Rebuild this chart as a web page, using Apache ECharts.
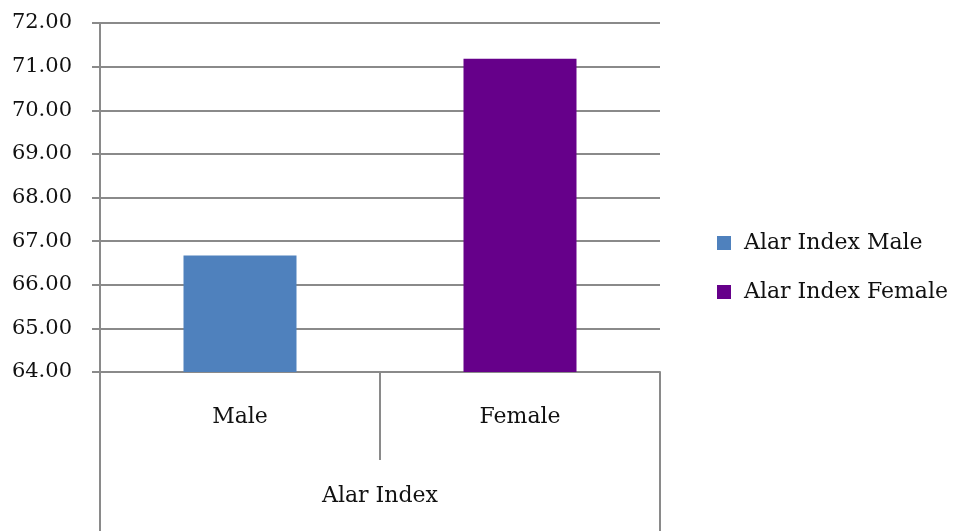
<!DOCTYPE html>
<html lang="en">

<head>
  <script src="https://cdn.jsdelivr.net/npm/echarts@6.0.0/dist/echarts.min.js"></script>
  <meta charset="UTF-8">
</head>

<body style="margin:0;background:#fff;">
  <div id="alarChart" style="width: 958px;height:531px;"></div>

  <script type="text/javascript">

    var categories = ['Male', 'Female'];
    var groupLabels = ['Alar Index'];
    var seriesNames = ['Alar Index Male', 'Alar Index Female'];
    var maleValues = [66.67, null];
    var femaleValues = [null, 71.18];

    var lineColor = '#8a8a8a';
    var fontFamily = '"DejaVu Serif", serif';

    function createAlarChart() {
        const chart = echarts.init(document.getElementById('alarChart'));

        const textStyle = {
            fontFamily: fontFamily,
            fontSize: 21,
            color: '#111'
        };

        const option = {
            animation: false,
            grid: {
                left: 100,
                right: 298,
                top: 23,
                bottom: 159
            },
            legend: {
                orient: 'vertical',
                left: 712,
                top: 227,
                itemWidth: 14,
                itemHeight: 14,
                itemGap: 27,
                icon: 'rect',
                textStyle: { ...textStyle, fontSize: 22, padding: [0, 0, 0, 8] },
                data: seriesNames
            },
            xAxis: [
                {
                    type: 'category',
                    data: categories,
                    position: 'bottom',
                    axisLine: { show: true, lineStyle: { color: lineColor, width: 2 } },
                    axisTick: {
                        show: true,
                        alignWithLabel: false,
                        length: 88,
                        lineStyle: { color: lineColor, width: 2 }
                    },
                    axisLabel: { ...textStyle, fontSize: 22, margin: 34 }
                },
                {
                    type: 'category',
                    data: groupLabels,
                    position: 'bottom',
                    axisLine: { show: false },
                    axisTick: {
                        show: true,
                        alignWithLabel: false,
                        length: 160,
                        lineStyle: { color: lineColor, width: 2 }
                    },
                    axisLabel: { ...textStyle, fontSize: 22, margin: 113 }
                }
            ],
            yAxis: {
                type: 'value',
                min: 64,
                max: 72,
                interval: 1,
                axisLine: { show: true, lineStyle: { color: lineColor, width: 2 } },
                axisTick: { show: true, length: 8, lineStyle: { color: lineColor, width: 2 } },
                axisLabel: {
                    ...textStyle,
                    margin: 28,
                    formatter: function (v) { return v.toFixed(2); }
                },
                splitLine: { show: true, lineStyle: { color: lineColor, width: 2 } }
            },
            series: [
                {
                    name: seriesNames[0],
                    type: 'bar',
                    data: maleValues,
                    barWidth: 113,
                    barGap: '-100%',
                    itemStyle: { color: '#4f81bd' }
                },
                {
                    name: seriesNames[1],
                    type: 'bar',
                    data: femaleValues,
                    barWidth: 113,
                    barGap: '-100%',
                    itemStyle: { color: '#66008a' }
                }
            ]
        };

        chart.setOption(option);
    }
    createAlarChart();
  </script>
</body>

</html>
